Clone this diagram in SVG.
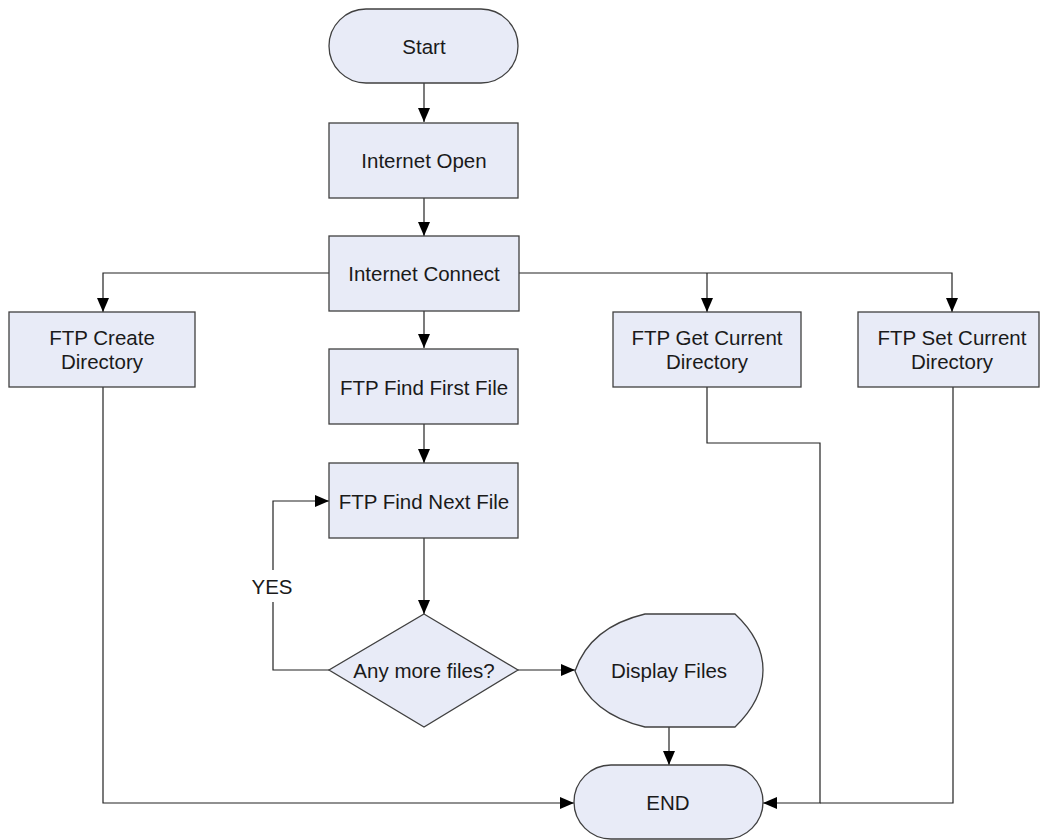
<svg xmlns="http://www.w3.org/2000/svg" width="1040" height="840" viewBox="0 0 1040 840">
<style>
.n{fill:#E8EBF7;stroke:#404040;stroke-width:1.3}
.t{font-family:"Liberation Sans",Arial,sans-serif;font-size:20.5px;fill:#1a1a1a;text-anchor:middle;dominant-baseline:central}
.c{fill:none;stroke:#222;stroke-width:1.2}
</style>
<defs>
<marker id="a" markerWidth="14" markerHeight="12" refX="14" refY="6" orient="auto" markerUnits="userSpaceOnUse">
<path d="M0,0 L14,6 L0,12 Z" fill="#000"/>
</marker>
</defs>
<rect width="1040" height="840" fill="#fff"/>
<g id="connectors">
<path class="c" d="M424,83 V122" marker-end="url(#a)"/>
<path class="c" d="M424,198 V236" marker-end="url(#a)"/>
<path class="c" d="M329,273 H103 V312" marker-end="url(#a)"/>
<path class="c" d="M519,273 H952 V312" marker-end="url(#a)"/>
<path class="c" d="M707,273 V312" marker-end="url(#a)"/>
<path class="c" d="M424,311 V348" marker-end="url(#a)"/>
<path class="c" d="M424,424 V463" marker-end="url(#a)"/>
<path class="c" d="M424,538 V614" marker-end="url(#a)"/>
<path class="c" d="M329,670 H273 V501 H329" marker-end="url(#a)"/>
<path class="c" d="M518,670 H575" marker-end="url(#a)"/>
<path class="c" d="M669,727 V765" marker-end="url(#a)"/>
<path class="c" d="M103,387 V803 H574" marker-end="url(#a)"/>
<path class="c" d="M707,387 V443 H820 V803 H763" marker-end="url(#a)"/>
<path class="c" d="M953,387 V803 H820"/>
<rect x="248" y="570" width="50" height="32" fill="#fff"/>
<text class="t" x="272" y="586">YES</text>
</g>
<g id="start"><rect class="n" x="329" y="9" width="189" height="74" rx="37"/><text class="t" x="424" y="46">Start</text></g>
<g id="internet-open"><rect class="n" x="329" y="123" width="189" height="75"/><text class="t" x="424" y="160">Internet Open</text></g>
<g id="internet-connect"><rect class="n" x="329" y="236" width="190" height="75"/><text class="t" x="424" y="273">Internet Connect</text></g>
<g id="ftp-create"><rect class="n" x="9" y="312" width="186" height="75"/><text class="t" x="102" y="337">FTP Create</text><text class="t" x="102" y="361">Directory</text></g>
<g id="ftp-get"><rect class="n" x="613" y="312" width="188" height="75"/><text class="t" x="707" y="337">FTP Get Current</text><text class="t" x="707" y="361">Directory</text></g>
<g id="ftp-set"><rect class="n" x="858" y="312" width="181" height="75"/><text class="t" x="952" y="337">FTP Set Current</text><text class="t" x="952" y="361">Directory</text></g>
<g id="ftp-find-first"><rect class="n" x="329" y="349" width="189" height="75"/><text class="t" x="424" y="387">FTP Find First File</text></g>
<g id="ftp-find-next"><rect class="n" x="329" y="463" width="189" height="75"/><text class="t" x="424" y="501">FTP Find Next File</text></g>
<g id="decision"><polygon class="n" points="424,614 518,670 424,727 329,670"/><text class="t" x="424" y="670">Any more files?</text></g>
<g id="display-files"><path class="n" d="M645,614 H735 Q763,640 763,670 Q763,700 735,727 H645 Q590,714 575,671 Q590,627 645,614 Z"/><text class="t" x="669" y="670">Display Files</text></g>
<g id="end"><rect class="n" x="574" y="765" width="189" height="74" rx="37"/><text class="t" x="668" y="802">END</text></g>
</svg>
